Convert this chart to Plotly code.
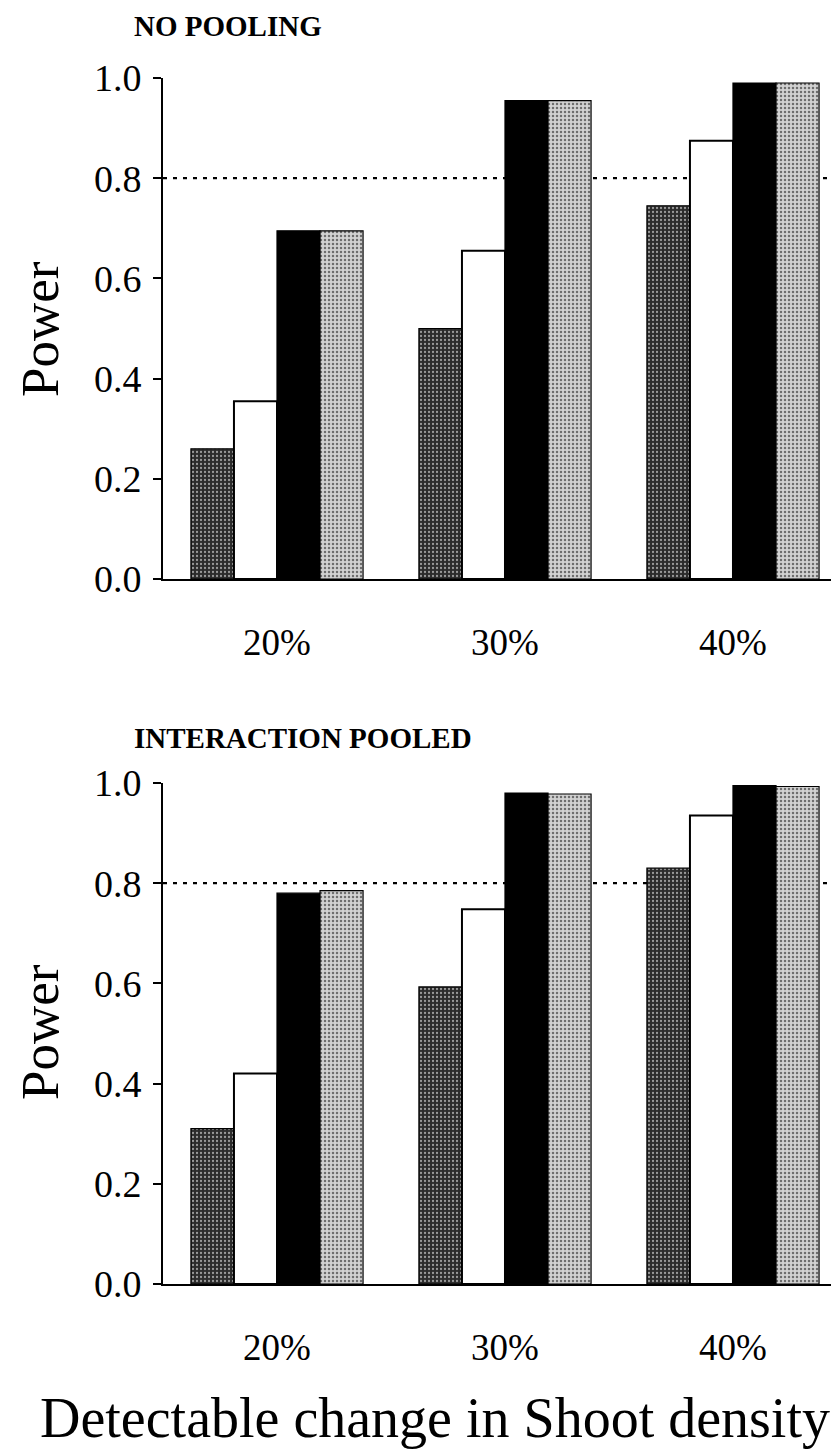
import plotly.graph_objects as go
from plotly.subplots import make_subplots

categories = ["20%", "30%", "40%"]
panel_titles = ["NO POOLING", "INTERACTION POOLED"]

# top panel (NO POOLING)
top_dark = [0.26, 0.50, 0.745]
top_white = [0.355, 0.655, 0.875]
top_black = [0.695, 0.955, 0.99]
top_gray = [0.695, 0.955, 0.99]

# bottom panel (INTERACTION POOLED)
bot_dark = [0.31, 0.593, 0.83]
bot_white = [0.42, 0.748, 0.935]
bot_black = [0.78, 0.98, 0.995]
bot_gray = [0.785, 0.978, 0.993]

target_power = 0.8
y_ticks = [0.0, 0.2, 0.4, 0.6, 0.8, 1.0]

PAGE_W, PAGE_H = 839, 1454
OFF = 8  # default page body margin
W, H = PAGE_W - OFF, PAGE_H - OFF
FONT = "Liberation Serif"

fig = make_subplots(rows=2, cols=1)

styles = [
    dict(color="#333333", line=dict(color="black", width=1.2),
         pattern=dict(shape=".", bgcolor="#2b2b2b", fgcolor="#9a9a9a", size=4, solidity=0.25, fillmode="replace")),
    dict(color="white", line=dict(color="black", width=2)),
    dict(color="black", line=dict(color="black", width=1.2)),
    dict(color="#c4c4c4", line=dict(color="black", width=1.2),
         pattern=dict(shape=".", bgcolor="#d2d2d2", fgcolor="#6e6e6e", size=4, solidity=0.3, fillmode="replace")),
]

x_idx = list(range(len(categories)))
for row, series in ((1, [top_dark, top_white, top_black, top_gray]),
                    (2, [bot_dark, bot_white, bot_black, bot_gray])):
    for s, st in zip(series, styles):
        fig.add_trace(go.Bar(x=x_idx, y=s, marker=st, showlegend=False), row=row, col=1)


def py(p):
    return 1 - (p - OFF) / H


def px(p):
    return (p - OFF) / W


domains = [(py(579), py(78)), (py(1284), py(783))]

for i, (d0, d1) in enumerate(domains, start=1):
    xa = "xaxis" if i == 1 else f"xaxis{i}"
    ya = "yaxis" if i == 1 else f"yaxis{i}"
    fig.layout[xa].update(
        domain=[px(163), 1], range=[-0.5, 2.465], tickvals=x_idx, ticktext=categories,
        showline=True, linecolor="black", linewidth=2, ticks="", showgrid=False,
        zeroline=False, tickfont=dict(family=FONT, size=37, color="black"),
        ticklabelstandoff=30, automargin=False,
    )
    fig.layout[ya].update(
        domain=[d0, d1], range=[0, 1.0], tickvals=y_ticks, tickformat=".1f",
        showline=True, linecolor="black", linewidth=2, ticks="outside",
        ticklen=8, tickwidth=2, tickcolor="black", showgrid=False, zeroline=False,
        tickfont=dict(family=FONT, size=38, color="black"), ticklabelstandoff=4,
        automargin=False,
    )
    xref = "x" if i == 1 else f"x{i}"
    yref = "y" if i == 1 else f"y{i}"
    fig.add_shape(type="line", xref=f"{xref} domain", yref=yref, x0=0, x1=1,
                  y0=target_power, y1=target_power, layer="below",
                  line=dict(color="black", width=2.2, dash="4px,6px"))

# panel titles
fig.add_annotation(text=f"<b>{panel_titles[0]}</b>", x=px(132), y=1, xref="paper", yref="paper",
                   xanchor="left", yanchor="top", showarrow=False,
                   font=dict(family=FONT, size=29, color="black"))
fig.add_annotation(text=f"<b>{panel_titles[1]}</b>", x=px(132), y=py(738), xref="paper", yref="paper",
                   xanchor="left", yanchor="middle", showarrow=False,
                   font=dict(family=FONT, size=29, color="black"))

# y titles
for cy in (329, 1032):
    fig.add_annotation(text="Power", x=px(40), y=py(cy), xref="paper", yref="paper",
                       xanchor="center", yanchor="middle", showarrow=False, textangle=-90,
                       font=dict(family=FONT, size=53, color="black"))

# x title
fig.add_annotation(text="Detectable change in Shoot density", x=px(435), y=py(1418),
                   xref="paper", yref="paper", xanchor="center", yanchor="middle", showarrow=False,
                   font=dict(family=FONT, size=56, color="black"))

fig.update_layout(
    width=W, height=H, margin=dict(l=0, r=0, t=0, b=0, autoexpand=False),
    plot_bgcolor="white", paper_bgcolor="white",
    barmode="group", bargap=0.245, bargroupgap=0, showlegend=False,
)

fig.write_html("out.html")
